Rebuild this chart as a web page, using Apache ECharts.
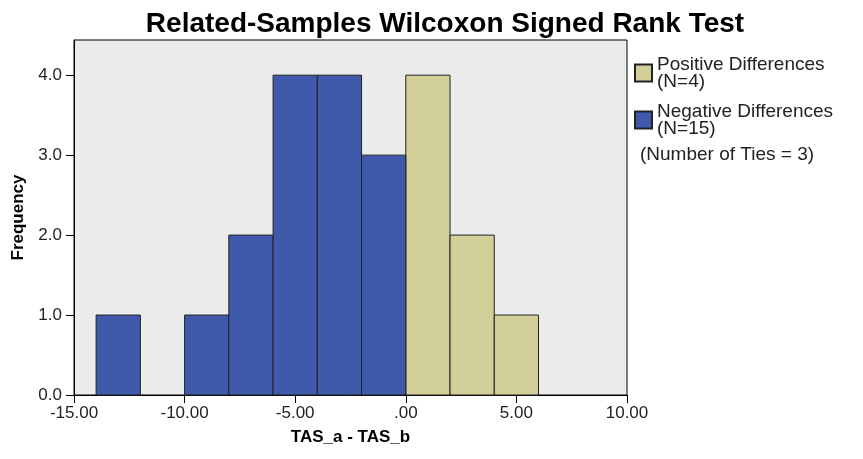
<!DOCTYPE html>
<html>
<head>
<meta charset="utf-8">
<script src="https://cdn.jsdelivr.net/npm/echarts@6/dist/echarts.min.js"></script>
<style>html,body{margin:0;padding:0;background:#fff;}#c{width:863px;height:459px;}</style>
</head>
<body>
<div id="c"></div>
<script>
const titleText = 'Related-Samples Wilcoxon Signed Rank Test';
const xTitle = 'TAS_a - TAS_b';
const yTitle = 'Frequency';
const binWidth = 2;
const negStarts = [-14, -10, -8, -6, -4, -2];
const negFreq = [1, 1, 2, 4, 4, 3];
const posStarts = [0, 2, 4];
const posFreq = [4, 2, 1];
const posName = 'Positive Differences\n(N=4)';
const negName = 'Negative Differences\n(N=15)';
const tiesText = '(Number of Ties = 3)';

const posColor = '#d3cf99';
const negColor = '#3f59ab';

function toData(starts, freq) {
  return starts.map((s, i) => [s, s + binWidth, freq[i]]);
}
function renderBin(params, api) {
  const p0 = api.coord([api.value(0), api.value(2)]);
  const p1 = api.coord([api.value(1), 0]);
  return {
    type: 'rect',
    shape: { x: p0[0], y: p0[1], width: p1[0] - p0[0], height: p1[1] - p0[1] },
    style: { fill: api.visual('color'), stroke: '#222', lineWidth: 1 }
  };
}
const chart = echarts.init(document.getElementById('c'), null, { renderer: 'canvas' });
const font = 'Liberation Sans, Arial, sans-serif';
chart.setOption({
  animation: false,
  textStyle: { fontFamily: font },
  title: {
    text: titleText, left: 440, top: 5, textAlign: 'center',
    textStyle: { fontFamily: font, fontSize: 28, fontWeight: 'bold', color: '#000' }
  },
  grid: {
    left: 74, right: 236, top: 40, bottom: 64,
    show: true, backgroundColor: '#ebebeb', borderColor: '#000', borderWidth: 1
  },
  legend: {
    orient: 'vertical', left: 634, top: 55, padding: 0,
    itemWidth: 17, itemHeight: 17, itemGap: 11,
    icon: 'rect',
    data: [posName, negName],
    textStyle: { fontFamily: font, fontSize: 19, color: '#222', lineHeight: 17 }
  },
  graphic: [{
    type: 'text', left: 640, top: 145,
    style: { text: tiesText, fontFamily: font, fontSize: 19, fill: '#222' }
  }],
  xAxis: {
    type: 'value', min: -15, max: 10, interval: 5,
    name: xTitle, nameLocation: 'middle', nameGap: 34,
    nameTextStyle: { fontFamily: font, fontSize: 17, fontWeight: 'bold', color: '#000' },
    axisLine: { onZero: false, lineStyle: { color: '#000' } },
    axisTick: { show: true, length: 8, lineStyle: { color: '#000' } },
    axisLabel: {
      fontSize: 17, color: '#222', margin: 10,
      formatter: v => (v === 0 ? '.00' : v.toFixed(2))
    },
    splitLine: { show: false }
  },
  yAxis: {
    type: 'value', min: 0, max: 4.44, interval: 1,
    name: yTitle, nameLocation: 'middle', nameGap: 47,
    nameTextStyle: { fontFamily: font, fontSize: 17, fontWeight: 'bold', color: '#000' },
    axisLine: { show: true, onZero: false, lineStyle: { color: '#000' } },
    axisTick: { show: true, length: 8, lineStyle: { color: '#000' } },
    axisLabel: {
      fontSize: 17, color: '#222', margin: 12, showMaxLabel: false,
      formatter: v => (Math.abs(v - Math.round(v)) < 1e-9 ? v.toFixed(1) : '')
    },
    splitLine: { show: false }
  },
  series: [
    {
      name: posName, type: 'custom', renderItem: renderBin,
      itemStyle: { color: posColor, borderColor: '#222', borderWidth: 1 },
      encode: { x: [0, 1], y: 2 },
      data: toData(posStarts, posFreq)
    },
    {
      name: negName, type: 'custom', renderItem: renderBin,
      itemStyle: { color: negColor, borderColor: '#222', borderWidth: 1 },
      encode: { x: [0, 1], y: 2 },
      data: toData(negStarts, negFreq)
    }
  ]
});
</script>
</body>
</html>
